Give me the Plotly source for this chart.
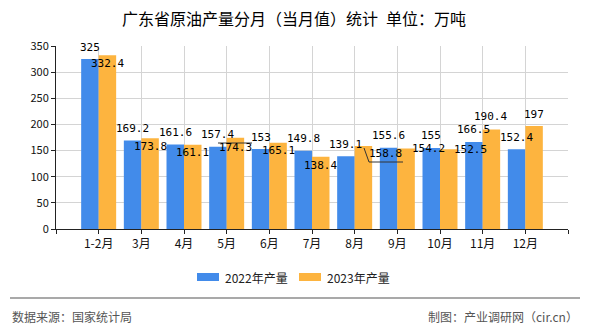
import plotly.graph_objects as go

months = ["1-2月", "3月", "4月", "5月", "6月", "7月", "8月", "9月", "10月", "11月", "12月"]
v2022 = [325, 169.2, 161.6, 157.4, 153, 149.8, 139.1, 155.6, 155, 166.5, 152.4]
v2023 = [332.4, 173.8, 161.1, 174.3, 165.1, 138.4, 158.8, 154.2, 152.5, 190.4, 197]
series_names = ["2022年产量", "2023年产量"]
y_ticks = [0, 50, 100, 150, 200, 250, 300, 350]

# style
W, H = 590, 330
L, R, T, B = 56, 568, 46, 229
BLUE = "#428BEA"
ORANGE = "#FDB43F"
FONT = "Noto Sans CJK SC"
LABEL_FONT = "DejaVu Sans Mono"
bw = 0.41
# label pixel offsets (dx, dy) relative to bar top, style only
lab2022_off = [(0, 12)] * len(months)
lab2023_off = [(0, -8), (0, -8), (0, -8), (0, -10), (0, -8), (0, -9),
               (22, -8), (22, 0), (22, 0), (-1, 13), (0, 12)]

x_idx = list(range(len(months)))

fig = go.Figure()
fig.add_trace(go.Bar(x=x_idx, y=v2022, width=bw, offset=-bw, marker_color=BLUE,
                     marker_line_width=0, name=series_names[0], showlegend=False))
fig.add_trace(go.Bar(x=x_idx, y=v2023, width=bw, offset=0, marker_color=ORANGE,
                     marker_line_width=0, name=series_names[1], showlegend=False))

ann = []
for i, v in enumerate(v2022):
    dx, dy = lab2022_off[i]
    ann.append(dict(x=i - bw / 2, y=v, xref="x", yref="y", text=str(v), showarrow=False,
                    xshift=dx, yshift=dy, yanchor="middle", xanchor="center",
                    font=dict(family=LABEL_FONT, size=11, color="#000")))
for i, v in enumerate(v2023):
    dx, dy = lab2023_off[i]
    ann.append(dict(x=i + bw / 2, y=v, xref="x", yref="y", text=str(v), showarrow=False,
                    xshift=dx, yshift=dy, yanchor="middle", xanchor="center",
                    font=dict(family=LABEL_FONT, size=11, color="#000")))


def px(x):
    return (x - L) / (R - L)


def py(y):
    return (B - y) / (B - T)


shapes = []
# legend
leg = [(197, BLUE, series_names[0]), (299, ORANGE, series_names[1])]
for x0, c, name in leg:
    shapes.append(dict(type="rect", xref="paper", yref="paper", x0=px(x0), x1=px(x0 + 22),
                       y0=py(281), y1=py(273), fillcolor=c, line_width=0))
    ann.append(dict(x=px(x0 + 26), y=py(277), xref="paper", yref="paper", text=name,
                    showarrow=False, xanchor="left", yanchor="middle",
                    font=dict(family=FONT, size=12, color="#222")))
# drag leader lines seen in the reference
shapes.append(dict(type="line", xref="paper", yref="paper", x0=px(218), x1=px(252),
                   y0=py(143), y1=py(143), line=dict(color="#333", width=1)))
shapes.append(dict(type="path", xref="paper", yref="paper",
                   path=f"M{px(364)},{py(148)} L{px(369)},{py(162)} L{px(403)},{py(162)}",
                   line=dict(color="#333", width=1)))
# footer line
shapes.append(dict(type="line", xref="paper", yref="paper", x0=px(10), x1=px(580),
                   y0=py(298), y1=py(298), line=dict(color="#8c8c8c", width=1.5)))
ann.append(dict(x=px(10), y=py(316), xref="paper", yref="paper", text="数据来源：国家统计局",
                showarrow=False, xanchor="left", yanchor="middle",
                font=dict(family=FONT, size=12, color="#555")))
ann.append(dict(x=px(580), y=py(316), xref="paper", yref="paper", text="制图：产业调研网（cir.cn）",
                showarrow=False, xanchor="right", yanchor="middle",
                font=dict(family=FONT, size=12, color="#555")))
# title
ann.append(dict(x=px(294), y=py(18), xref="paper", yref="paper",
                text="广东省原油产量分月（当月值）统计\u2002单位：万吨",
                showarrow=False, xanchor="center", yanchor="middle",
                font=dict(family=FONT, size=16, color="#000")))

fig.update_layout(
    width=W, height=H,
    margin=dict(l=L, r=W - R, t=T, b=H - B, pad=0),
    paper_bgcolor="white", plot_bgcolor="white",
    barmode="overlay",
    showlegend=False,
    annotations=ann,
    shapes=shapes,
    xaxis=dict(range=[-1, 11], tickmode="array",
               tickvals=[-1] + x_idx + [11], ticktext=[""] + months + [""],
               showgrid=True, gridcolor="#d4d4d4", gridwidth=1,
               showline=True, linecolor="#222", linewidth=1,
               ticks="outside", ticklen=4, tickcolor="#222",
               tickfont=dict(family=FONT, size=12, color="#111"), zeroline=False),
    yaxis=dict(range=[0, 350], tickmode="array", tickvals=y_ticks,
               showgrid=True, gridcolor="#d4d4d4", gridwidth=1,
               showline=True, linecolor="#222", linewidth=1,
               ticks="outside", ticklen=4, tickcolor="#222",
               tickfont=dict(family=FONT, size=11, color="#111"), zeroline=False),
)

fig.write_html("out.html")
